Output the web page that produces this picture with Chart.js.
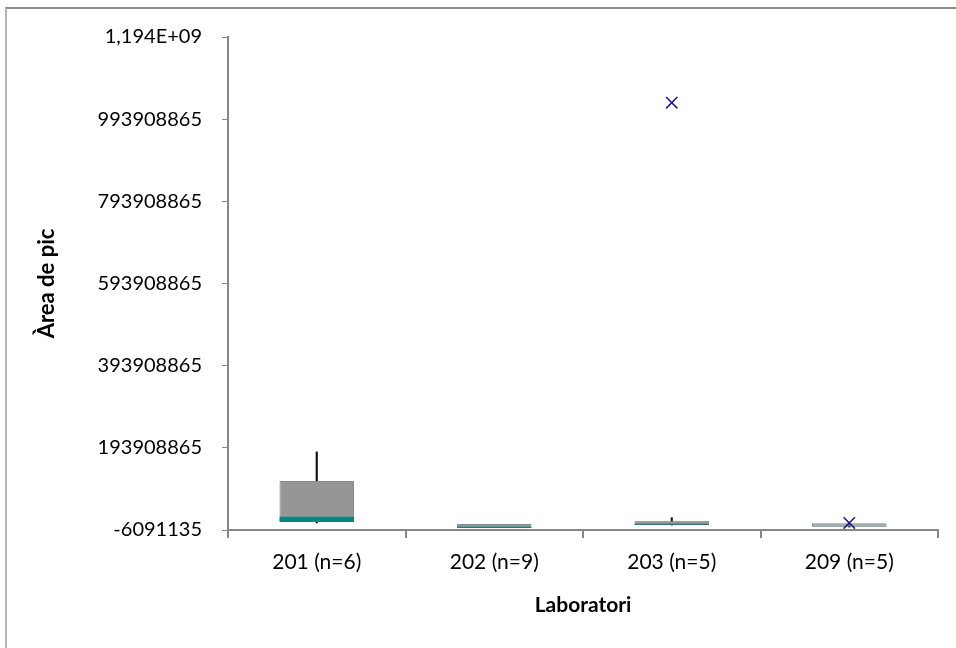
<!DOCTYPE html>
<html>
<head>
<meta charset="utf-8">
<script src="https://cdn.jsdelivr.net/npm/chart.js@4/dist/chart.umd.min.js"></script>
<style>
    html, body { margin: 0; padding: 0; background: #fff; overflow: hidden; }
    #wrap { position: relative; width: 956px; height: 648px; }
    #frame {
        position: absolute; left: 5px; top: 7px; width: 1000px; height: 700px;
        border-left: 2px solid #b4b4b4; border-top: 2px solid #8c8c8c;
        pointer-events: none;
    }
    canvas { position: absolute; left: 0; top: 0; }
</style>
</head>
<body>
<div id="wrap">
    <canvas id="boxChart" width="956" height="648"></canvas>
    <div id="frame"></div>
</div>
<script>
// Box plot data
const categories = ['201 (n=6)', '202 (n=9)', '203 (n=5)', '209 (n=5)'];
const whiskerMin = [11000000, 0, 6000000, 1000000];
const q1 = [13400000, -1200000, 6100000, 1500000];
const median = [25600000, 1200000, 8500000, 2200000];
const q3 = [113000000, 8500000, 16500000, 10200000];
const whiskerMax = [184000000, 7000000, 23800000, 9000000];
const outliers = [null, null, 1034000000, 11000000];

const yTickValues = [-6091135, 193908865, 393908865, 593908865, 793908865, 993908865, 1193908865];
const yTickLabels = ['-6091135', '193908865', '393908865', '593908865', '793908865', '993908865', '1,194E+09'];

const axisGray = '#868686';
const fontFamily = 'Lato, "Open Sans", sans-serif';

const lowerBox = categories.map((_, i) => [q1[i], median[i]]);
const upperBox = categories.map((_, i) => [median[i], q3[i]]);
const whiskers = categories.map((_, i) => [whiskerMin[i], whiskerMax[i]]);

const ctx = document.getElementById('boxChart').getContext('2d');
new Chart(ctx, {
    data: {
        labels: categories,
        datasets: [{
            type: 'line',
            label: 'Outliers',
            data: outliers,
            showLine: false,
            pointStyle: 'crossRot',
            pointRadius: 8,
            borderColor: '#1a1a8c',
            borderWidth: 1.5,
            order: 0
        }, {
            type: 'bar',
            label: 'Q3',
            data: upperBox,
            grouped: false,
            backgroundColor: '#969696',
            borderColor: '#8a8a8a',
            borderWidth: 1,
            borderSkipped: false,
            categoryPercentage: 1,
            barPercentage: 0.42,
            order: 1
        }, {
            type: 'bar',
            label: 'Q1',
            data: lowerBox,
            grouped: false,
            backgroundColor: '#0b8582',
            borderWidth: 0,
            categoryPercentage: 1,
            barPercentage: 0.42,
            order: 2
        }, {
            type: 'bar',
            label: 'Whisker',
            data: whiskers,
            grouped: false,
            backgroundColor: '#111',
            borderWidth: 0,
            barThickness: 1.5,
            order: 3
        }]
    },
    options: {
        responsive: false,
        animation: false,
        layout: { padding: { top: 37, right: 18, left: 0, bottom: 0 } },
        plugins: {
            legend: { display: false },
            tooltip: { enabled: false }
        },
        scales: {
            x: {
                type: 'category',
                offset: true,
                grid: {
                    offset: true,
                    drawOnChartArea: false,
                    color: axisGray,
                    tickLength: 8,
                    lineWidth: 2
                },
                border: { color: axisGray, width: 2 },
                ticks: {
                    color: '#000',
                    font: { family: fontFamily, size: 21 },
                    padding: 12
                },
                title: {
                    display: true,
                    text: 'Laboratori',
                    color: '#000',
                    font: { family: fontFamily, size: 21, weight: 'bold' },
                    padding: { top: 0, bottom: 30 }
                },
                afterFit: (scale) => { scale.height = 118; }
            },
            y: {
                min: -6091135,
                max: 1193908865,
                afterBuildTicks: (scale) => {
                    scale.ticks = yTickValues.map(v => ({ value: v }));
                },
                grid: {
                    drawOnChartArea: false,
                    color: axisGray,
                    tickLength: 6
                },
                border: { color: axisGray, width: 2 },
                ticks: {
                    color: '#000',
                    font: { family: fontFamily, size: 20 },
                    padding: 20,
                    callback: (value, index) => yTickLabels[index]
                },
                title: {
                    display: true,
                    text: 'Àrea de pic',
                    color: '#000',
                    font: { family: fontFamily, size: 22, weight: 'bold' },
                    padding: { top: 34 }
                },
                afterFit: (scale) => { scale.width = 228; }
            }
        }
    }
});
</script>
</body>
</html>
